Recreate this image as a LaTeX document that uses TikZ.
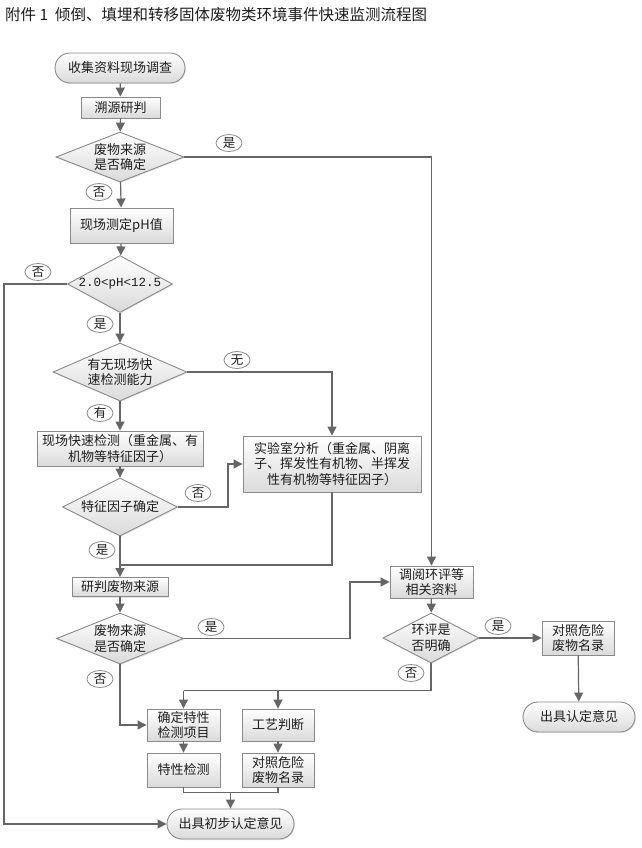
\documentclass[tikz,border=0pt]{standalone}
\usepackage{fontspec}
\setmainfont{Noto Sans CJK SC}
\newfontfamily\phfont{Liberation Mono}
\usepackage{tikz}
\usetikzlibrary{positioning,arrows.meta,shapes.geometric,calc,shadows}
\definecolor{ink}{HTML}{1E1E1E}
\definecolor{wire}{HTML}{666666}
\definecolor{edge}{HTML}{8A8A8A}
\definecolor{shade}{HTML}{DADADA}

\tikzset{
  box/.style={rectangle, draw=edge, line width=0.9pt, top color=white, bottom color=shade,
    inner sep=0pt, align=center, text=ink, font=\fontsize{13}{15.5}\selectfont,
    drop shadow={shadow xshift=1pt, shadow yshift=-1pt, opacity=0.2}},
  term/.style={box, rounded corners=15pt},
  choice/.style={box, diamond},
  tag/.style={ellipse, draw=edge, fill=white, line width=0.8pt, inner sep=0pt,
    minimum width=26pt, minimum height=17pt, text=ink, font=\fontsize{12.5}{12.5}\selectfont},
  flow/.style={draw=wire, line width=1.2pt, -{Triangle[length=9pt,width=9pt]}},
  wire/.style={draw=wire, line width=1.2pt}
}

\begin{document}
\begin{tikzpicture}[x=1pt, y=-1pt]
  \path[fill=white, use as bounding box] (0,0) rectangle (642,848);
  \node[anchor=west, text=ink, font=\fontsize{15.5}{18}\selectfont, inner sep=0pt] (title) at (5,15)
    {附件 1\ \ 倾倒、填埋和转移固体废物类环境事件快速监测流程图};

  \node[term, minimum width=130pt, minimum height=30pt] (start) at (120,68) {收集资料现场调查};
  \node[box, minimum width=79pt, minimum height=21pt] (trace) at (120.5,107.5) {溯源研判};
  \node[choice, aspect=2.56, minimum width=128pt, minimum height=50pt] (srcA) at (120,157) {废物来源\\是否确定};
  \node[box, minimum width=103pt, minimum height=35pt] (ph) at (121.5,225.5) {现场测定pH值};
  \node[choice, aspect=1.84, minimum width=105pt, minimum height=57pt, font=\phfont\fontsize{12.5}{14}\selectfont] (range) at (120,284) {2.0<pH<12.5};
  \node[choice, aspect=2.31, minimum width=134pt, minimum height=58pt] (able) at (120,372) {有无现场快\\速检测能力};
  \node[box, minimum width=166pt, minimum height=35pt] (fast) at (120,448.5) {现场快速检测（重金属、有\\机物等特征因子）};
  \node[choice, aspect=1.98, minimum width=115pt, minimum height=58pt] (factor) at (120,507) {特征因子确定};
  \node[box, minimum width=178pt, minimum height=56pt] (lab) at (332,464) {实验室分析（重金属、阴离\\子、挥发性有机物、半挥发\\性有机物等特征因子）};
  \node[box, minimum width=96pt, minimum height=19pt] (judge) at (120,587) {研判废物来源};
  \node[choice, aspect=2.5, minimum width=127pt, minimum height=51pt] (srcB) at (120,638.5) {废物来源\\是否确定};
  \node[box, minimum width=83pt, minimum height=32pt] (eia) at (431.5,582) {调阅环评等\\相关资料};
  \node[choice, aspect=1.92, minimum width=96pt, minimum height=50pt] (clear) at (431,638) {环评是\\否明确};
  \node[box, minimum width=72pt, minimum height=34pt] (listA) at (578,638) {对照危险\\废物名录};
  \node[term, minimum width=112pt, minimum height=30pt] (endA) at (579,717) {出具认定意见};
  \node[box, minimum width=73pt, minimum height=32pt] (item) at (183.5,725) {确定特性\\检测项目};
  \node[box, minimum width=72pt, minimum height=32pt] (craft) at (278,725) {工艺判断};
  \node[box, minimum width=73pt, minimum height=34pt] (test) at (183.5,770) {特性检测};
  \node[box, minimum width=72pt, minimum height=34pt] (listB) at (278,770) {对照危险\\废物名录};
  \node[term, minimum width=127pt, minimum height=30pt] (endB) at (230.5,824) {出具初步认定意见};

  \coordinate (split) at ($(item.north)+(0,-18)$);
  \coordinate (merge) at ($(endB.north)+(0,-16)$);

  \draw[flow] (start) -- (trace);
  \draw[flow] (trace) -- (srcA);
  \draw[flow] (srcA) -- (ph);
  \draw[flow] (srcA.east) -| (eia.north);
  \draw[flow] (ph) -- (range);
  \draw[flow] (range.west) -- ++(-63,0) |- (endB.west);
  \draw[flow] (range) -- (able);
  \draw[flow] (able) -- (fast);
  \draw[flow] (able.east) -| (lab.north);
  \draw[flow] (fast) -- (factor);
  \draw[flow] (factor.east) -- ++(50,0) |- (lab.west);
  \draw[flow] (factor) -- (judge);
  \draw[wire] (lab.south) |- ($(judge.north)+(0,-12)$);
  \draw[flow] (judge) -- (srcB);
  \draw[flow] (srcB.east) -- ++(166,0) |- (eia.west);
  \draw[flow] (srcB.south) |- (item.west);
  \draw[flow] (eia) -- (clear);
  \draw[flow] (clear.east) -- (listA.west);
  \draw[flow] (listA) -- (endA);
  \draw[wire] (clear.south) |- (split);
  \draw[flow] (split) -- (item.north);
  \draw[flow] (split -| craft.north) -- (craft.north);
  \draw[flow] (item) -- (test);
  \draw[flow] (craft) -- (listB);
  \draw[wire] (test.south) |- (merge) -| (listB.south);
  \draw[flow] (merge) -- (endB.north);

  \node[tag] (yesA) at (229,143) {是};
  \node[tag] (noA) at (99,192) {否};
  \node[tag] (noB) at (38,272) {否};
  \node[tag] (yesB) at (100,324) {是};
  \node[tag] (none) at (237,360) {无};
  \node[tag] (have) at (100,413) {有};
  \node[tag] (noC) at (198,493) {否};
  \node[tag] (yesC) at (102,550) {是};
  \node[tag] (yesD) at (211,627) {是};
  \node[tag] (yesE) at (498,626) {是};
  \node[tag] (noD) at (411,673) {否};
  \node[tag] (noE) at (100,679) {否};
\end{tikzpicture}
\end{document}
